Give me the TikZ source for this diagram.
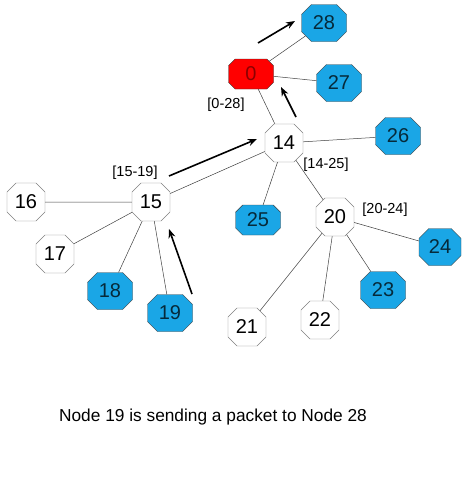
\documentclass[tikz,border=0pt]{standalone}
\usepackage{fontspec}
\setmainfont{Liberation Sans}
\usepackage{xcolor}
\usepackage{tikz}
\usetikzlibrary{arrows.meta,shapes.misc}
\definecolor{nodeblue}{HTML}{1AA6E6}
\definecolor{nodered}{HTML}{FF0000}

\begin{document}
\begin{tikzpicture}[x=1pt, y=-1pt,
    oct/.style={chamfered rectangle, chamfered rectangle ysep=5.5pt, draw=black!50, fill=#1,
                minimum width=38pt, minimum height=38pt, inner sep=0pt, font=\fontsize{20}{20}\selectfont},
    oct/.default=white,
    leaf/.style={oct=nodeblue, draw=black!75, text=nodeblue!25!black, chamfered rectangle ysep=6.3pt,
                 minimum width=45pt, minimum height=37pt},
    root/.style={oct=nodered, draw=black!80, text=nodered!55!black, chamfered rectangle ysep=3.1pt,
                 minimum width=45pt, minimum height=30pt},
    link/.style={draw=black!75, line width=0.5pt},
    arr/.style={-{Stealth[length=9pt, width=7pt]}, line width=1.6pt, black},
    note/.style={font=\fontsize{14.5}{16}\selectfont}
]
\useasboundingbox (0,0) rectangle (470,501);

% routers and hosts
\node[root] (n0) at (251,74) {0};
\node[leaf] (n28) at (324,23) {28};
\node[leaf] (n27) at (339,83) {27};
\node[oct] (n14) at (284,143) {14};
\node[leaf] (n26) at (398,136) {26};
\node[leaf, minimum height=30pt, chamfered rectangle ysep=3.7pt] (n25) at (258,220) {25};
\node[oct] (n15) at (151,202) {15};
\node[oct] (n16) at (26,202) {16};
\node[oct] (n17) at (55,254) {17};
\node[leaf] (n18) at (110,291) {18};
\node[leaf] (n19) at (170,313) {19};
\node[oct] (n20) at (335,217) {20};
\node[oct] (n21) at (247,327) {21};
\node[oct] (n22) at (320,320) {22};
\node[leaf] (n23) at (383,290) {23};
\node[leaf, minimum width=42pt] (n24) at (440,247) {24};

% tree links
\draw[link] (n0) -- (n28);
\draw[link] (n0) -- (n27);
\draw[link] (n0) -- (n14);
\draw[link] (n14) -- (n26);
\draw[link] (n14) -- (n25);
\draw[link] (n14) -- (n15);
\draw[link] (n14) -- (n20);
\draw[link] (n15) -- (n16);
\draw[link] (n15) -- (n17);
\draw[link] (n15) -- (n18);
\draw[link] (n15) -- (n19);
\draw[link] (n20) -- (n21);
\draw[link] (n20) -- (n22);
\draw[link] (n20) -- (n23);
\draw[link] (n20) -- (n24);

% address ranges
\node[note] (r0) at (226,105) {[0-28]};
\node[note] (r15) at (135,173) {[15-19]};
\node[note] (r14) at (326,165) {[14-25]};
\node[note] (r20) at (385,210) {[20-24]};

% packet path
\coordinate (p19) at (192,294);
\coordinate (p15) at (169,229);
\coordinate (q15) at (169,176);
\coordinate (q14) at (257,139);
\coordinate (s14) at (296,117);
\coordinate (s0) at (281,87);
\coordinate (t0) at (258,43);
\coordinate (t28) at (295,21);
\draw[arr] (p19) -- (p15);
\draw[arr] (q15) -- (q14);
\draw[arr] (s14) -- (s0);
\draw[arr] (t0) -- (t28);

\node[font=\fontsize{17.3}{20}\selectfont] (caption) at (213,417) {Node 19 is sending a packet to Node 28};
\end{tikzpicture}
\end{document}
